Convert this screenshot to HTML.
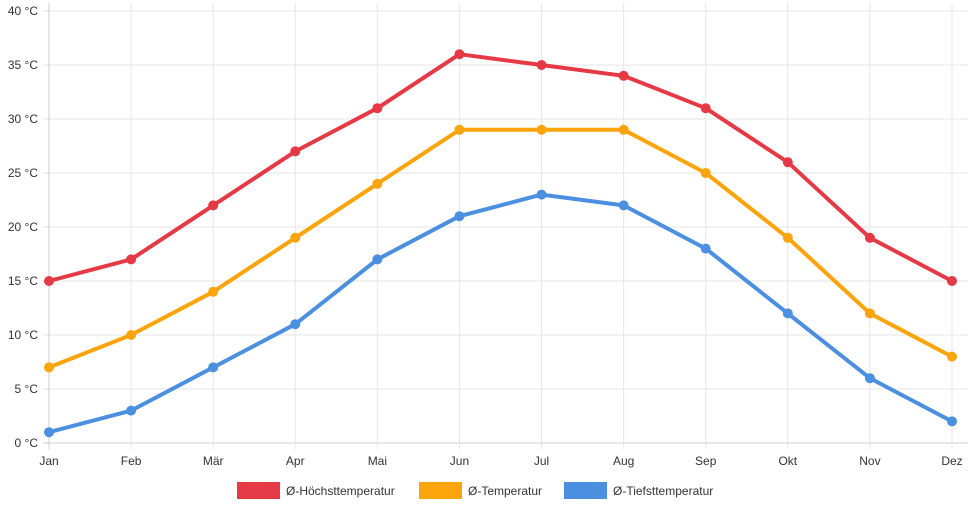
<!DOCTYPE html>
<html><head><meta charset="utf-8"><style>
body{margin:0;background:#fff;font-family:"Liberation Sans",sans-serif}
svg text{font-family:"Liberation Sans",sans-serif;font-size:12px;fill:#333}
</style></head><body>
<svg id="c" width="968" height="508"></svg>
<script>
const months=["Jan","Feb","Mär","Apr","Mai","Jun","Jul","Aug","Sep","Okt","Nov","Dez"];
const highs=[15,17,22,27,31,36,35,34,31,26,19,15];
const means=[7,10,14,19,24,29,29,29,25,19,12,8];
const lows=[1,3,7,11,17,21,23,22,18,12,6,2];
const yTicks=[0,5,10,15,20,25,30,35,40];
const seriesNames=["Ø-Höchsttemperatur","Ø-Temperatur","Ø-Tiefsttemperatur"];
const colors=["#e53945","#fca40b","#4a8fe0"];
const svg=document.getElementById('c');
const NS="http://www.w3.org/2000/svg";
const x0=49,x1=952,yb=443,yt=11;
function xs(i){return x0+(x1-x0)*i/(months.length-1);}
function ys(v){return yb-(yb-yt)*v/40;}
function mk(t,a){const e=document.createElementNS(NS,t);for(const k in a)e.setAttribute(k,a[k]);svg.appendChild(e);return e;}
yTicks.forEach(v=>{
 const l=mk('line',{x1:x0-6,x2:x1+16,y1:ys(v),y2:ys(v),stroke:v===0?'#ccc':'#e6e6e6'});
 
 
 const t=mk('text',{x:38,y:ys(v)+4,'text-anchor':'end'});t.textContent=v+' °C';
 
 
});
months.forEach((m,i)=>{
 const l=mk('line',{x1:xs(i),x2:xs(i),y1:yt-8,y2:yb+6,stroke:i===0?'#ccc':'#e6e6e6'});
 
 
 const t=mk('text',{x:xs(i),y:465,'text-anchor':'middle'});t.textContent=m;
 
 
});
[highs,means,lows].forEach((d,s)=>{
 const p=mk('polyline',{points:d.map((v,i)=>xs(i)+','+ys(v)).join(' '),fill:'none',stroke:colors[s],'stroke-width':4,'stroke-linejoin':'round'});
 
 
 d.forEach((v,i)=>{
  const c=mk('circle',{cx:xs(i),cy:ys(v),r:5,fill:colors[s]});
  
  
 });
});
const lx=[237,419,564];
seriesNames.forEach((n,s)=>{
 const r=mk('rect',{x:lx[s],y:482,width:43,height:17,fill:colors[s]});
 
 
 const t=mk('text',{x:lx[s]+49,y:495});t.textContent=n;
 
 
});
</script>
</body></html>
